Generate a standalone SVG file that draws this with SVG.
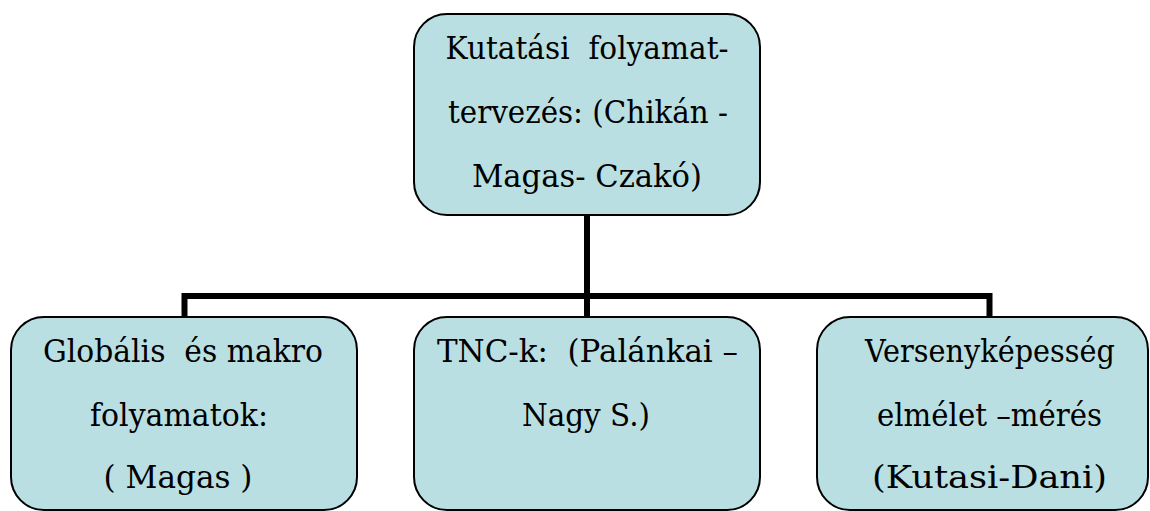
<svg xmlns="http://www.w3.org/2000/svg" width="1150" height="511" viewBox="0 0 1150 511">
<style>
.box{fill:#BADFE2;stroke:#000;stroke-width:2}
.c{fill:none;stroke:#000;stroke-width:6;stroke-linecap:butt;stroke-linejoin:miter}
text{font-family:'DejaVu Serif',serif;font-size:32px;fill:#000;text-anchor:middle;white-space:pre}
</style>
<rect width="1150" height="511" fill="#fff"/>
<g id="connectors">
<path class="c" d="M587,215 V296"/>
<path class="c" d="M184.5,317 V296 H989.5 V317"/>
<path class="c" d="M587,296 V317"/>
</g>
<g id="node-top">
<rect class="box" x="414" y="14" width="346" height="201" rx="33" ry="33"/>
<text x="587" y="59" textLength="283" lengthAdjust="spacingAndGlyphs">Kutatási  folyamat-</text>
<text x="588" y="123" textLength="280" lengthAdjust="spacingAndGlyphs">tervezés: (Chikán -</text>
<text x="587" y="187" textLength="230" lengthAdjust="spacingAndGlyphs">Magas- Czakó)</text>
</g>
<g id="node-left">
<rect class="box" x="11" y="317" width="346" height="193" rx="33" ry="33"/>
<text x="183" y="362" textLength="280" lengthAdjust="spacingAndGlyphs">Globális  és makro</text>
<text x="179" y="426" textLength="178" lengthAdjust="spacingAndGlyphs">folyamatok:</text>
<text x="178" y="488" textLength="149" lengthAdjust="spacingAndGlyphs">( Magas )</text>
</g>
<g id="node-middle">
<rect class="box" x="414" y="317" width="346" height="193" rx="33" ry="33"/>
<text x="587.5" y="362" textLength="301" lengthAdjust="spacingAndGlyphs">TNC-k:  (Palánkai –</text>
<text x="586" y="426" textLength="128" lengthAdjust="spacingAndGlyphs">Nagy S.)</text>
</g>
<g id="node-right">
<rect class="box" x="817" y="317" width="331" height="193" rx="33" ry="33"/>
<text x="990" y="362" textLength="250" lengthAdjust="spacingAndGlyphs">Versenyképesség</text>
<text x="989.5" y="426" textLength="225" lengthAdjust="spacingAndGlyphs">elmélet –mérés</text>
<text x="989.5" y="488" textLength="235" lengthAdjust="spacingAndGlyphs">(Kutasi-Dani)</text>
</g>
</svg>
